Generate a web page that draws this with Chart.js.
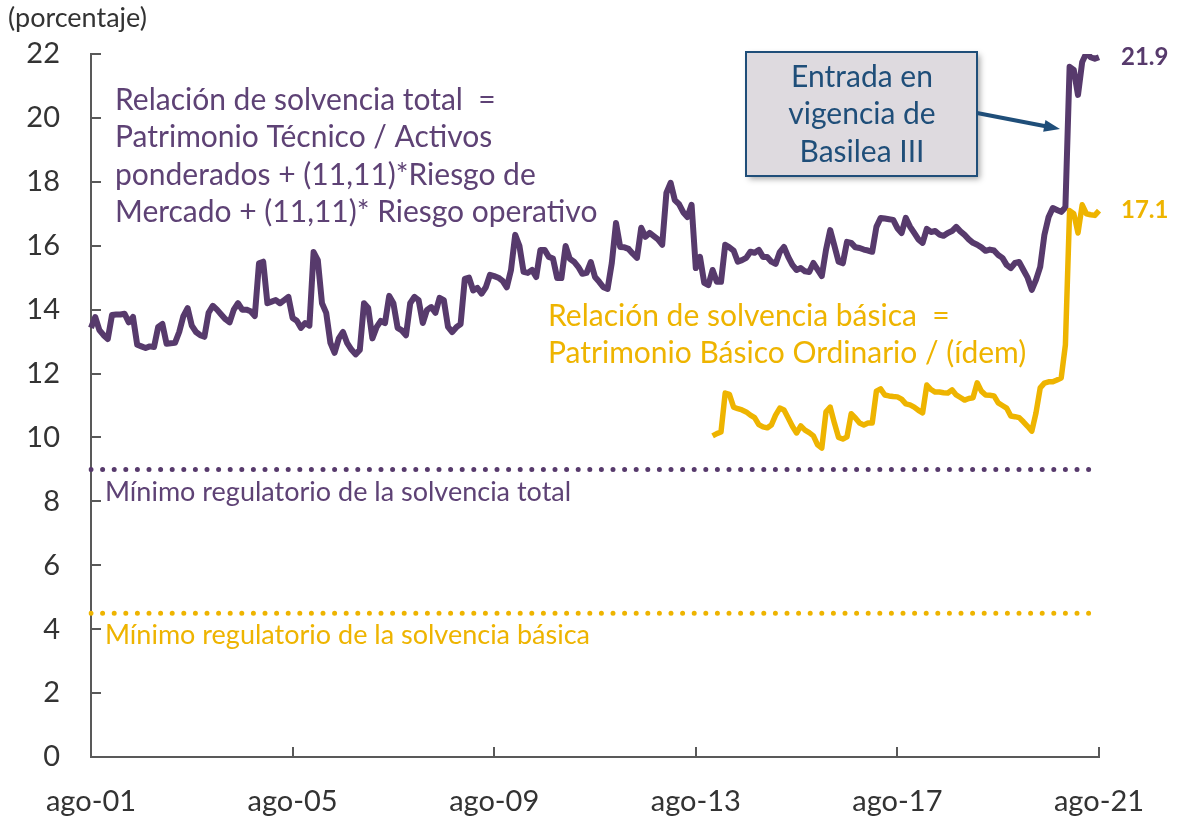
<!DOCTYPE html>
<html lang="es">
<head>
<meta charset="utf-8">
<title>Relación de solvencia</title>
<script src="https://cdn.jsdelivr.net/npm/chart.js@4.4.1/dist/chart.umd.min.js"></script>
<style>
  html, body { margin: 0; padding: 0; background: #fff; }
  #wrap { width: 1192px; height: 816px; position: relative; }
</style>
</head>
<body>
<div id="wrap"><canvas id="solvencia" width="1192" height="816"></canvas></div>
<script>
/* ── Datos ─────────────────────────────────────────────── */
const MESES = ['ene', 'feb', 'mar', 'abr', 'may', 'jun', 'jul', 'ago', 'sep', 'oct', 'nov', 'dic'];

// Relación de solvencia total, mensual desde ago-01 hasta ago-21 (%)
const solvenciaTotal = [
  13.43, 13.77, 13.36, 13.2, 13.08, 13.83, 13.85, 13.85, 13.87, 13.6, 13.77, 12.9,
  12.85, 12.8, 12.85, 12.83, 13.46, 13.55, 12.93, 12.95, 12.96, 13.3, 13.8, 14.05,
  13.5, 13.3, 13.2, 13.15, 13.9, 14.12, 14.0, 13.85, 13.7, 13.6, 14.0, 14.2,
  14.0, 14.0, 13.95, 13.8, 15.45, 15.5, 14.2, 14.25, 14.3, 14.2, 14.3, 14.4,
  13.74, 13.65, 13.43, 13.58, 13.5, 15.8, 15.55, 14.2, 13.9, 12.96, 12.65, 13.1,
  13.3, 12.95, 12.75, 12.6, 12.74, 14.2, 14.05, 13.1, 13.45, 13.65, 13.58, 14.43,
  14.2, 13.43, 13.35, 13.2, 14.2, 14.4, 14.3, 13.58, 13.99, 14.08, 13.9, 14.37,
  14.3, 13.46, 13.3, 13.45, 13.55, 14.96, 15.0, 14.6, 14.68, 14.5, 14.7, 15.09,
  15.05, 15.0, 14.9, 14.7, 15.24, 16.34, 16.0, 15.18, 15.15, 15.24, 15.02, 15.87,
  15.87, 15.65, 15.6, 14.99, 14.99, 15.99, 15.59, 15.5, 15.34, 15.12, 15.15, 15.49,
  15.02, 14.87, 14.7, 14.65, 15.46, 16.71, 15.96, 15.95, 15.9, 15.75, 15.62, 16.56,
  16.28, 16.4, 16.3, 16.2, 16.03, 17.65, 17.97, 17.43, 17.3, 17.05, 16.9, 17.28,
  15.3, 15.65, 14.84, 14.77, 15.24, 14.87, 14.87, 16.03, 15.95, 15.85, 15.5, 15.55,
  15.62, 15.81, 15.78, 15.87, 15.65, 15.65, 15.5, 15.43, 15.8, 15.96, 15.65, 15.4,
  15.24, 15.3, 15.2, 15.18, 15.46, 15.25, 15.05, 15.87, 16.49, 16.0, 15.5, 15.45,
  16.12, 16.09, 15.95, 15.93, 15.88, 15.85, 15.81, 16.59, 16.87, 16.85, 16.83, 16.81,
  16.55, 16.4, 16.87, 16.6, 16.4, 16.2, 16.09, 16.53, 16.43, 16.46, 16.35, 16.31,
  16.4, 16.46, 16.59, 16.45, 16.34, 16.2, 16.09, 16.03, 15.95, 15.84, 15.88, 15.85,
  15.71, 15.62, 15.4, 15.3, 15.46, 15.49, 15.24, 15.0, 14.62, 14.93, 15.34, 16.34,
  16.9, 17.18, 17.12, 17.06, 17.2, 21.6, 21.5, 20.72, 21.75, 22.03, 21.9, 21.85,
  21.9
];

// Relación de solvencia básica, mensual desde dic-13 (%)
const inicioBasica = 'dic-13';
const solvenciaBasica = [
  10.05, 10.12, 10.17, 11.39, 11.35, 10.95, 10.9, 10.86, 10.8, 10.7, 10.62, 10.4,
  10.33, 10.3, 10.39, 10.7, 10.92, 10.86, 10.61, 10.35, 10.14, 10.36, 10.23, 10.15,
  10.05, 9.77, 9.67, 10.8, 10.95, 10.45, 10.0, 9.95, 10.02, 10.74, 10.61, 10.45,
  10.39, 10.45, 10.45, 11.45, 11.52, 11.33, 11.3, 11.28, 11.27, 11.2, 11.05, 11.02,
  10.95, 10.85, 10.77, 11.64, 11.5, 11.42, 11.42, 11.4, 11.39, 11.49, 11.33, 11.25,
  11.17, 11.22, 11.24, 11.71, 11.45, 11.33, 11.32, 11.3, 11.08, 11.0, 10.92, 10.67,
  10.65, 10.62, 10.49, 10.35, 10.2, 10.77, 11.55, 11.7, 11.74, 11.74, 11.8, 11.86,
  12.9, 17.1, 17.0, 16.4, 17.28, 17.0, 16.97, 16.95, 17.1
];

// Mínimos regulatorios (%)
const minimoTotal = 9;
const minimoBasica = 4.5;

// Etiquetas del eje
const etiquetasX = ['ago-01', 'ago-05', 'ago-09', 'ago-13', 'ago-17', 'ago-21'];
const ticksY = [0, 2, 4, 6, 8, 10, 12, 14, 16, 18, 20, 22];

/* ── Categorías (meses) ────────────────────────────────── */
const categorias = [];
for (let i = 0; i < solvenciaTotal.length; i++) {
  const m = 7 + i; // ago-2001
  const anio = 2001 + Math.floor(m / 12);
  categorias.push(MESES[m % 12] + '-' + String(anio % 100).padStart(2, '0'));
}
const idxBasica = categorias.indexOf(inicioBasica);
const serieBasica = categorias.map((c, i) => i >= idxBasica ? solvenciaBasica[i - idxBasica] : null);

/* ── Estilo ────────────────────────────────────────────── */
const MORADO = '#573A6C';
const MORADO_TXT = '#5E4275';
const AMARILLO = '#EEB400';
const AZUL = '#1F4E79';
const GRIS = '#333333';
const FUENTE = 'Lato, "DejaVu Sans", sans-serif';

/* ── Ticks hacia dentro ────────────────────────────────── */
const ticksInternos = {
  id: 'ticksInternos',
  afterDraw(chart) {
    const { ctx, scales: { x, y } } = chart;
    ctx.save();
    ctx.strokeStyle = '#595959';
    ctx.lineWidth = 2;
    ctx.beginPath();
    ticksY.forEach(v => {
      const py = Math.round(y.getPixelForValue(v));
      ctx.moveTo(x.left, py);
      ctx.lineTo(x.left + 10, py);
    });
    etiquetasX.forEach(l => {
      const px = Math.round(x.getPixelForValue(categorias.indexOf(l)));
      ctx.moveTo(px, y.bottom);
      ctx.lineTo(px, y.bottom - 10);
    });
    ctx.stroke();
    ctx.restore();
  }
};

/* ── Anotaciones ───────────────────────────────────────── */
function texto(ctx, lineas, x0, y0, paso, font, color, align) {
  ctx.font = font;
  ctx.fillStyle = color;
  ctx.textAlign = align || 'left';
  ctx.textBaseline = 'middle';
  lineas.forEach((t, i) => ctx.fillText(t, x0, y0 + i * paso));
}

const anotaciones = {
  id: 'anotaciones',
  afterDraw(chart) {
    const { ctx, scales: { x, y } } = chart;
    ctx.save();

    texto(ctx, ['(porcentaje)'], 8, 18, 0, '27px ' + FUENTE, GRIS);

    texto(ctx, [
      'Relación de solvencia total  =',
      'Patrimonio Técnico / Activos',
      'ponderados + (11,11)*Riesgo de',
      'Mercado + (11,11)* Riesgo operativo'
    ], 115, 100, 37.5, '30px ' + FUENTE, MORADO_TXT);

    texto(ctx, [
      'Relación de solvencia básica  =',
      'Patrimonio Básico Ordinario / (ídem)'
    ], 548, 316, 37.5, '30px ' + FUENTE, AMARILLO);

    texto(ctx, ['Mínimo regulatorio de la solvencia total'], 105,
      y.getPixelForValue(minimoTotal) + 23, 0, '27px ' + FUENTE, MORADO_TXT);
    texto(ctx, ['Mínimo regulatorio de la solvencia básica'], 105,
      y.getPixelForValue(minimoBasica) + 22, 0, '27px ' + FUENTE, AMARILLO);

    // Recuadro Basilea III
    ctx.save();
    ctx.shadowColor = 'rgba(0,0,0,0.35)';
    ctx.shadowBlur = 6;
    ctx.shadowOffsetX = 3;
    ctx.shadowOffsetY = 3;
    ctx.fillStyle = '#DEDADF';
    ctx.fillRect(746, 52, 231, 124);
    ctx.restore();
    ctx.strokeStyle = AZUL;
    ctx.lineWidth = 2;
    ctx.strokeRect(746, 52, 231, 124);
    texto(ctx, ['Entrada en', 'vigencia de', 'Basilea III'], 862, 77, 37.5,
      '30px ' + FUENTE, AZUL, 'center');

    // Flecha
    const x1 = 977, y1 = 113, x2 = 1060, y2 = 129;
    const ang = Math.atan2(y2 - y1, x2 - x1);
    ctx.strokeStyle = AZUL;
    ctx.fillStyle = AZUL;
    ctx.lineWidth = 4;
    ctx.beginPath();
    ctx.moveTo(x1, y1);
    ctx.lineTo(x2 - 12 * Math.cos(ang), y2 - 12 * Math.sin(ang));
    ctx.stroke();
    ctx.beginPath();
    ctx.moveTo(x2, y2);
    ctx.lineTo(x2 - 16 * Math.cos(ang) + 6 * Math.sin(ang), y2 - 16 * Math.sin(ang) - 6 * Math.cos(ang));
    ctx.lineTo(x2 - 16 * Math.cos(ang) - 6 * Math.sin(ang), y2 - 16 * Math.sin(ang) + 6 * Math.cos(ang));
    ctx.closePath();
    ctx.fill();

    // Últimos valores
    const ultTotal = solvenciaTotal[solvenciaTotal.length - 1];
    const ultBasica = solvenciaBasica[solvenciaBasica.length - 1];
    texto(ctx, [ultTotal.toFixed(1)], x.right + 22, y.getPixelForValue(ultTotal), 0,
      'bold 24px ' + FUENTE, MORADO);
    texto(ctx, [ultBasica.toFixed(1)], x.right + 22, y.getPixelForValue(ultBasica), 0,
      'bold 24px ' + FUENTE, AMARILLO);

    ctx.restore();
  }
};

/* ── Gráfico ───────────────────────────────────────────── */
new Chart(document.getElementById('solvencia'), {
  type: 'line',
  data: {
    labels: categorias,
    datasets: [
      {
        label: 'Relación de solvencia básica',
        data: serieBasica,
        borderColor: AMARILLO,
        borderWidth: 5.5,
        pointRadius: 0,
        tension: 0,
        borderJoinStyle: 'round',
        order: 0
      },
      {
        label: 'Relación de solvencia total',
        data: solvenciaTotal,
        borderColor: MORADO,
        borderWidth: 6,
        pointRadius: 0,
        tension: 0,
        borderJoinStyle: 'round',
        order: 1
      },
      {
        label: 'Mínimo regulatorio de la solvencia total',
        data: categorias.map(() => minimoTotal),
        borderColor: MORADO,
        borderWidth: 5,
        borderDash: [0, 11.6],
        borderCapStyle: 'round',
        pointRadius: 0,
        order: 2
      },
      {
        label: 'Mínimo regulatorio de la solvencia básica',
        data: categorias.map(() => minimoBasica),
        borderColor: AMARILLO,
        borderWidth: 5,
        borderDash: [0, 11.6],
        borderCapStyle: 'round',
        pointRadius: 0,
        order: 3
      }
    ]
  },
  options: {
    responsive: false,
    animation: false,
    layout: { padding: { left: 0, right: 93, top: 54, bottom: 0 } },
    plugins: {
      legend: { display: false },
      tooltip: { enabled: false }
    },
    scales: {
      x: {
        grid: { display: false, drawTicks: false },
        border: { display: true, color: '#595959', width: 2 },
        afterFit: s => { s.height = 59; },
        ticks: {
          autoSkip: false,
          maxRotation: 0,
          minRotation: 0,
          padding: 27,
          color: GRIS,
          font: { family: FUENTE, size: 29 },
          callback: (v, i) => etiquetasX.includes(categorias[i]) ? categorias[i] : null
        }
      },
      y: {
        min: 0,
        max: 22,
        grid: { display: false, drawTicks: false },
        border: { display: true, color: '#595959', width: 2 },
        afterFit: s => { s.width = 91; },
        ticks: {
          stepSize: 2,
          padding: 31,
          color: GRIS,
          font: { family: FUENTE, size: 29 }
        }
      }
    }
  },
  plugins: [ticksInternos, anotaciones]
});
</script>
</body>
</html>
